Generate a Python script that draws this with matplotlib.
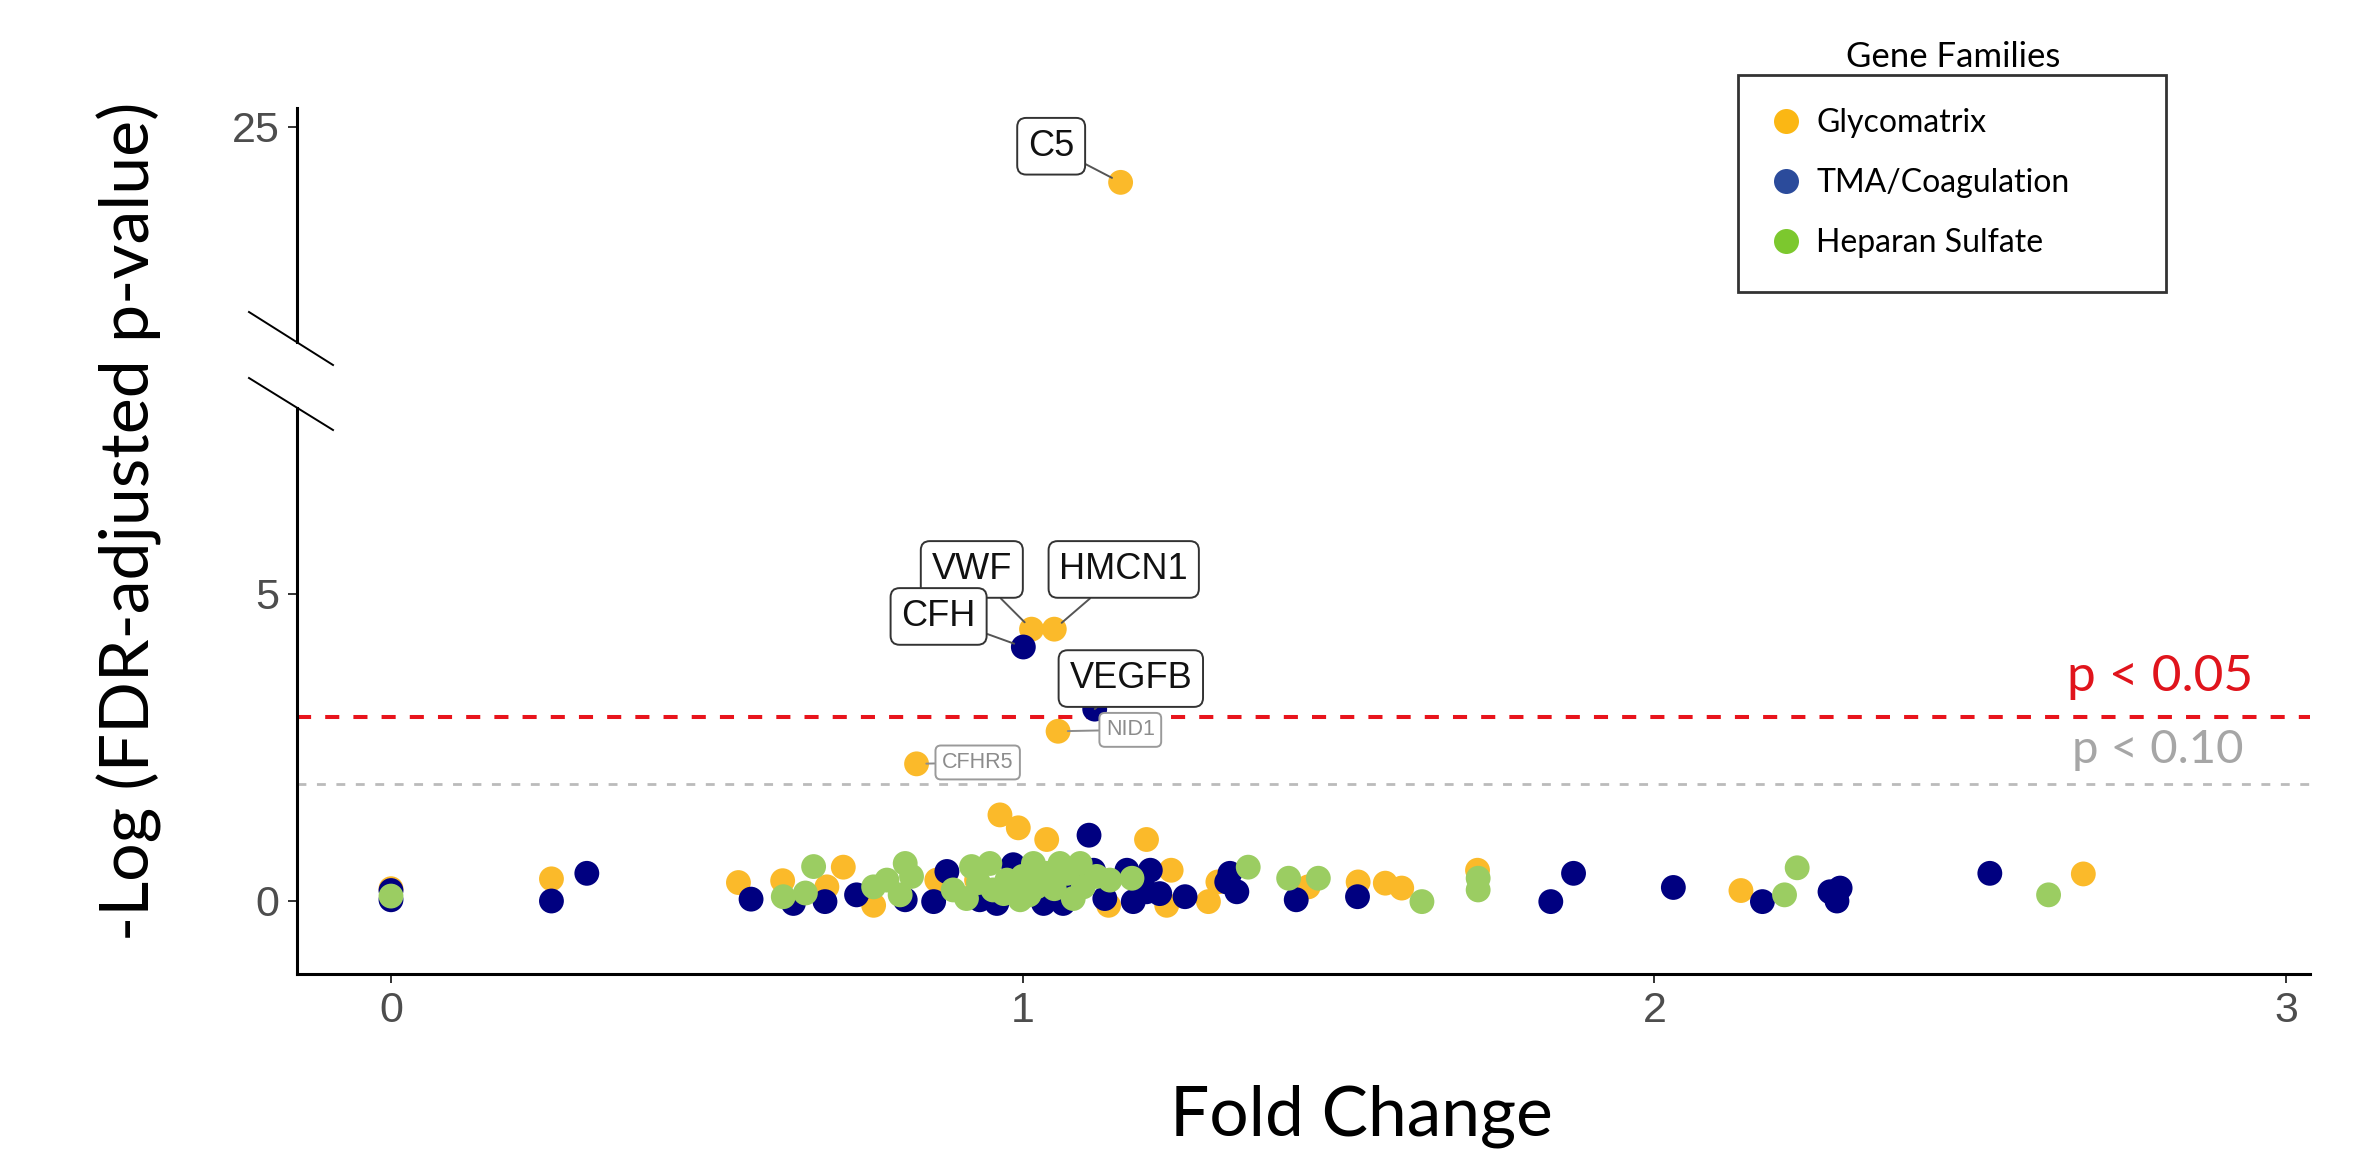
import matplotlib
matplotlib.use("Agg")
import matplotlib.pyplot as plt
from matplotlib.lines import Line2D

# ---------------- data ----------------
families = ["Glycomatrix", "TMA/Coagulation", "Heparan Sulfate"]

glyco_fc = [0.0, 0.254, 0.55, 0.62, 0.690, 0.716, 0.764, 0.864, 0.927, 0.964, 0.993,
            1.038, 1.196, 1.136, 1.228, 1.235, 1.294, 1.309, 1.452, 1.531, 1.574,
            1.600, 1.720, 2.137, 2.679,
            1.155, 1.014, 1.050, 1.056, 0.832]
glyco_nlp = [0.20, 0.36, 0.30, 0.33, 0.23, 0.55, -0.07, 0.34, 0.34, 1.40, 1.19,
             1.00, 1.00, -0.07, -0.07, 0.50, -0.01, 0.31, 0.23, 0.31, 0.29,
             0.21, 0.50, 0.17, 0.44,
             24.10, 4.42, 4.42, 2.76, 2.23]

tma_fc = [0.0, 0.0, 0.254, 0.31, 0.57, 0.637, 0.687, 0.737, 0.814, 0.859, 0.880,
          0.932, 0.959, 0.985, 1.033, 1.064, 1.075, 1.105, 1.112, 1.130, 1.165,
          1.175, 1.202, 1.196, 1.217, 1.257, 1.323, 1.328, 1.339, 1.433, 1.530,
          1.836, 1.872, 2.030, 2.171, 2.278, 2.294, 2.289, 2.531,
          1.001, 1.114]
tma_nlp = [0.17, 0.02, 0.00, 0.45, 0.03, -0.04, -0.01, 0.10, 0.02, -0.01, 0.48,
           0.02, -0.04, 0.59, -0.04, -0.04, 0.29, 1.07, 0.50, 0.04, 0.50,
           -0.01, 0.50, 0.15, 0.12, 0.07, 0.31, 0.45, 0.15, 0.02, 0.07,
           -0.01, 0.45, 0.22, -0.01, 0.15, 0.21, 0.00, 0.45,
           4.13, 3.12]

hs_fc = [0.0, 0.621, 0.656, 0.669, 0.764, 0.785, 0.806, 0.814, 0.824, 0.890, 0.911,
         0.919, 0.948, 0.953, 0.975, 0.996, 1.017, 1.022, 1.038, 1.059, 1.080,
         1.091, 1.096, 1.117, 1.138, 1.173, 1.357, 1.421, 1.468, 1.632, 1.721,
         1.721, 2.206, 2.226, 2.624,
         0.930, 0.970, 1.000, 1.010, 1.050, 1.070, 0.985, 1.030]
hs_nlp = [0.08, 0.07, 0.13, 0.56, 0.23, 0.34, 0.10, 0.61, 0.40, 0.18, 0.04,
          0.56, 0.61, 0.18, 0.34, 0.02, 0.61, 0.23, 0.45, 0.61, 0.04,
          0.61, 0.23, 0.40, 0.34, 0.37, 0.55, 0.37, 0.37, -0.01, 0.37,
          0.18, 0.10, 0.54, 0.10,
          0.30, 0.12, 0.40, 0.10, 0.20, 0.45, 0.25, 0.35]

label_genes = ["C5", "VWF", "HMCN1", "CFH", "VEGFB", "NID1", "CFHR5"]
label_fc = [1.155, 1.014, 1.050, 1.001, 1.114, 1.056, 0.832]
label_nlp = [24.10, 4.42, 4.42, 4.13, 3.12, 2.76, 2.23]
label_major = [True, True, True, True, True, False, False]

thresholds = [3.0, 1.9]
threshold_text = ["p < 0.05", "p < 0.10"]

xticks = [0, 1, 2, 3]
yticks_low = [0, 5]
yticks_high = [25]

# ---------------- style ----------------
W, H = 2378, 1155
DPI = 100
col_pts = ["#FBBA2A", "#000080", "#9BCD62"]
col_leg = ["#FBB714", "#2B4B9B", "#7CC82E"]
title_font = ["Lato", "DejaVu Sans"]
tick_font = ["Liberation Sans", "DejaVu Sans"]

fig = plt.figure(figsize=(W / DPI, H / DPI), dpi=DPI)

def fx(px):
    return px / W

def fy(py):
    return 1 - py / H

px_per_unit = 61.5
# lower axes
ax = fig.add_axes([fx(297), fy(974), fx(2310) - fx(297), fy(408) - fy(974)])
ax.set_ylim((901 - 974) / px_per_unit, (901 - 408) / px_per_unit)
# upper axes
axu = fig.add_axes([fx(297), fy(342), fx(2310) - fx(297), fy(108) - fy(342)])
axu.set_ylim(25 - (342 - 127) / px_per_unit, 25 + (127 - 108) / px_per_unit)

xl = ((297 - 391) / 631.7, (2310 - 391) / 631.7)
for a in (ax, axu):
    a.set_xlim(*xl)
    for s in ("top", "right"):
        a.spines[s].set_visible(False)
    a.spines["left"].set_linewidth(2.2)
    a.spines["bottom"].set_linewidth(2.2)
    a.tick_params(axis="both", length=6.5, width=1.4, color="#333333",
                  labelsize=31, labelcolor="#4D4D4D", pad=6)
    for pts_x, pts_y, c, z in ((glyco_fc, glyco_nlp, col_pts[0], 3),
                               (tma_fc, tma_nlp, col_pts[1], 4),
                               (hs_fc, hs_nlp, col_pts[2], 5)):
        a.scatter(pts_x, pts_y, s=320, color=c, edgecolors="none", zorder=z)

axu.spines["bottom"].set_visible(False)
axu.set_xticks([])
axu.set_yticks(yticks_high)
ax.set_xticks(xticks)
ax.set_yticks(yticks_low)
for a in (ax, axu):
    for lab in a.get_xticklabels() + a.get_yticklabels():
        lab.set_family(tick_font)

# threshold lines
ax.axhline(thresholds[0], color="#E8141C", lw=2.9, dashes=(3.5, 3.5), zorder=2)
ax.axhline(thresholds[1], color="#BBBBBB", lw=2.0, dashes=(3.2, 3.8), zorder=2)
tx = ax.get_yaxis_transform()
ax.annotate(threshold_text[0], xy=((2253 - 297) / (2310 - 297), thresholds[0]),
            xycoords=tx, xytext=(0, 18), textcoords="offset points",
            ha="right", va="baseline", fontsize=37, color="#E0141C", family=title_font)
ax.annotate(threshold_text[1], xy=((2243 - 297) / (2310 - 297), thresholds[1]),
            xycoords=tx, xytext=(0, 15), textcoords="offset points",
            ha="right", va="baseline", fontsize=34, color="#A6A6A6", family=title_font)

# gene labels
offsets = {"C5": (-50, 26), "VWF": (-43, 43), "HMCN1": (50, 43), "CFH": (-61, 22),
           "VEGFB": (26, 22), "NID1": (52, 1), "CFHR5": (44, 1)}
for g, x, y, major in zip(label_genes, label_fc, label_nlp, label_major):
    target = axu if y > ax.get_ylim()[1] else ax
    fs = 26 if major else 15.5
    tc = "#111111" if major else "#8C8C8C"
    ec = "#333333" if major else "#9A9A9A"
    target.annotate(g, xy=(x, y), xytext=offsets[g], textcoords="offset points",
                    ha="center", va="center", fontsize=fs, color=tc, family=tick_font,
                    bbox=dict(boxstyle="round,pad=0.3,rounding_size=0.25", fc="white",
                              ec=ec, lw=1.4),
                    arrowprops=dict(arrowstyle="-", color="#555555" if major else "#8C8C8C",
                                    lw=1.4, shrinkA=0, shrinkB=7),
                    zorder=6)

# axis break marks
for y0, y1 in ((312, 365), (378, 430)):
    fig.add_artist(Line2D([fx(249), fx(333)], [fy(y0), fy(y1)], color="black", lw=1.4))

# axis titles
fig.text(fx(129), fy(521), "-Log (FDR-adjusted p-value)", rotation=90, ha="center",
         va="center", fontsize=49, family=title_font, color="black")
fig.text(fx(1361), fy(1135), "Fold Change", ha="center", va="baseline", fontsize=50,
         family=title_font, color="black")

# legend
handles = [Line2D([], [], marker="o", ls="none", markersize=18, markeredgewidth=0,
                  color=c) for c in col_leg]
leg = fig.legend(handles, families, loc="upper left",
                 bbox_to_anchor=(fx(1738), fy(292), fx(2166) - fx(1738), fy(75) - fy(292)),
                 mode="expand", frameon=True, fancybox=False,
                 labelspacing=0.94, borderpad=1.04, handlelength=0.94, handletextpad=0.47,
                 borderaxespad=0, prop={"family": title_font, "size": 23})
leg.get_frame().set_edgecolor("black")
leg.get_frame().set_linewidth(2.0)
fig.text(fx(1953), fy(67), "Gene Families", ha="center", va="baseline", fontsize=25,
         family=title_font, color="black")

fig.savefig("out.png", dpi=DPI, facecolor="white")
